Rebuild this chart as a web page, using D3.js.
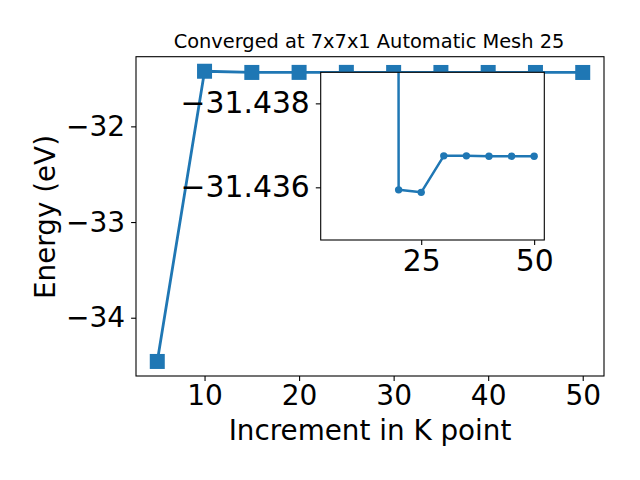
<!DOCTYPE html>
<html><head><meta charset="utf-8">
<script src="https://cdn.jsdelivr.net/npm/d3@7"></script>
<style>body{margin:0;background:#fff}svg{display:block}text{font-family:"DejaVu Sans",sans-serif}</style>
</head><body><svg id="c" width="640" height="480"></svg>
<script>
const kpoints = [5, 10, 15, 20, 25, 30, 35, 40, 45, 50];
const energy = [-34.457, -31.424, -31.4365, -31.43594, -31.43588, -31.43675, -31.43675, -31.43674, -31.43674, -31.43674];
// inset series (as seen in the zoomed panel: the line enters from far above at k=20)
const insetK = [5, 20, 25, 30, 35, 40, 45, 50];
const insetE = [-34.457, -31.43594, -31.43588, -31.43675, -31.43675, -31.43674, -31.43674, -31.43674];
const mainXTicks = [10, 20, 30, 40, 50];
const mainYTicks = [-32, -33, -34];
const insetXTicks = [25, 50];
const insetYTicks = [-31.438, -31.436];
const titleText = "Converged at 7x7x1 Automatic Mesh 25";
const xLabel = "Increment in K point";
const yLabel = "Energy (eV)";

const color = "#1f77b4";
const svg = d3.select("#c");
const defs = svg.append("defs");
const fmtMinus = s => String(s).replace("-", "\u2212");
const TICK_FS = 28, INSET_TICK_FS = 29.8, LABEL_FS = 27.8, TITLE_FS = 19.4;

// main axes
const M = {l: 136, r: 604, t: 56.7, b: 376};
const x = d3.scaleLinear().domain([2.75, 52.25]).range([M.l, M.r]);
const y = d3.scaleLinear().domain([-34.609, -31.272]).range([M.b, M.t]);

defs.append("clipPath").attr("id", "mclip")
  .append("rect").attr("x", M.l).attr("y", M.t).attr("width", M.r - M.l).attr("height", M.b - M.t);

const line = d3.line().x((d, i) => x(kpoints[i])).y(d => y(d));
const mg = svg.append("g").attr("clip-path", "url(#mclip)");
mg.append("path").datum(energy).attr("d", line).attr("fill", "none")
  .attr("stroke", color).attr("stroke-width", 2.8).attr("stroke-linejoin", "round");
mg.selectAll("rect.m").data(energy).enter().append("rect").attr("class", "m")
  .attr("x", (d, i) => x(kpoints[i]) - 7.5).attr("y", d => y(d) - 7.5)
  .attr("width", 15).attr("height", 15).attr("fill", color);

svg.append("rect").attr("x", M.l).attr("y", M.t).attr("width", M.r - M.l).attr("height", M.b - M.t)
  .attr("fill", "none").attr("stroke", "#000").attr("stroke-width", 1.1);

const xAx = svg.append("g").attr("transform", `translate(0,${M.b})`)
  .call(d3.axisBottom(x).tickValues(mainXTicks).tickSize(4.9).tickPadding(4.5).tickFormat(d => fmtMinus(d)));
const yAx = svg.append("g").attr("transform", `translate(${M.l},0)`)
  .call(d3.axisLeft(y).tickValues(mainYTicks).tickSize(4.9).tickPadding(6).tickFormat(d => fmtMinus(d)));
[xAx, yAx].forEach(a => {
  a.select(".domain").remove();
  a.selectAll("line").attr("stroke", "#000").attr("stroke-width", 1.1);
  a.selectAll("text").attr("font-size", TICK_FS).attr("fill", "#000").attr("font-family", "DejaVu Sans");
});

svg.append("text").attr("x", 370).attr("y", 440).attr("text-anchor", "middle")
  .attr("font-size", LABEL_FS).text(xLabel);
svg.append("text").attr("transform", "translate(55,217) rotate(-90)").attr("text-anchor", "middle")
  .attr("font-size", LABEL_FS).text(yLabel);
svg.append("text").attr("x", 369).attr("y", 48.3).attr("text-anchor", "middle")
  .attr("font-size", TITLE_FS).text(titleText);

// inset axes (y inverted)
const I = {l: 320.7, r: 544.3, t: 72.3, b: 240};
const xi = d3.scaleLinear().domain([2.75, 52.25]).range([I.l, I.r]);
const yi = d3.scaleLinear().domain([-31.43874, -31.434745]).range([I.t, I.b]);

defs.append("clipPath").attr("id", "iclip")
  .append("rect").attr("x", I.l).attr("y", I.t).attr("width", I.r - I.l).attr("height", I.b - I.t);

svg.append("rect").attr("x", I.l).attr("y", I.t).attr("width", I.r - I.l).attr("height", I.b - I.t)
  .attr("fill", "#fff");
const lineI = d3.line().x((d, i) => xi(insetK[i])).y(d => yi(d));
const ig = svg.append("g").attr("clip-path", "url(#iclip)");
ig.append("path").datum(insetE).attr("d", lineI).attr("fill", "none")
  .attr("stroke", color).attr("stroke-width", 2.5).attr("stroke-linejoin", "round");
ig.selectAll("circle").data(insetE).enter().append("circle")
  .attr("cx", (d, i) => xi(insetK[i])).attr("cy", d => yi(d)).attr("r", 3.7).attr("fill", color);
svg.append("rect").attr("x", I.l).attr("y", I.t).attr("width", I.r - I.l).attr("height", I.b - I.t)
  .attr("fill", "none").attr("stroke", "#000").attr("stroke-width", 1.1);

const xiAx = svg.append("g").attr("transform", `translate(0,${I.b})`)
  .call(d3.axisBottom(xi).tickValues(insetXTicks).tickSize(4.9).tickPadding(4.5).tickFormat(d => fmtMinus(d)));
const yiAx = svg.append("g").attr("transform", `translate(${I.l},0)`)
  .call(d3.axisLeft(yi).tickValues(insetYTicks).tickSize(4.9).tickPadding(6).tickFormat(d => fmtMinus(d3.format(".3f")(d))));
[xiAx, yiAx].forEach(a => {
  a.select(".domain").remove();
  a.selectAll("line").attr("stroke", "#000").attr("stroke-width", 1.1);
  a.selectAll("text").attr("font-size", INSET_TICK_FS).attr("fill", "#000").attr("font-family", "DejaVu Sans");
});
</script></body></html>
